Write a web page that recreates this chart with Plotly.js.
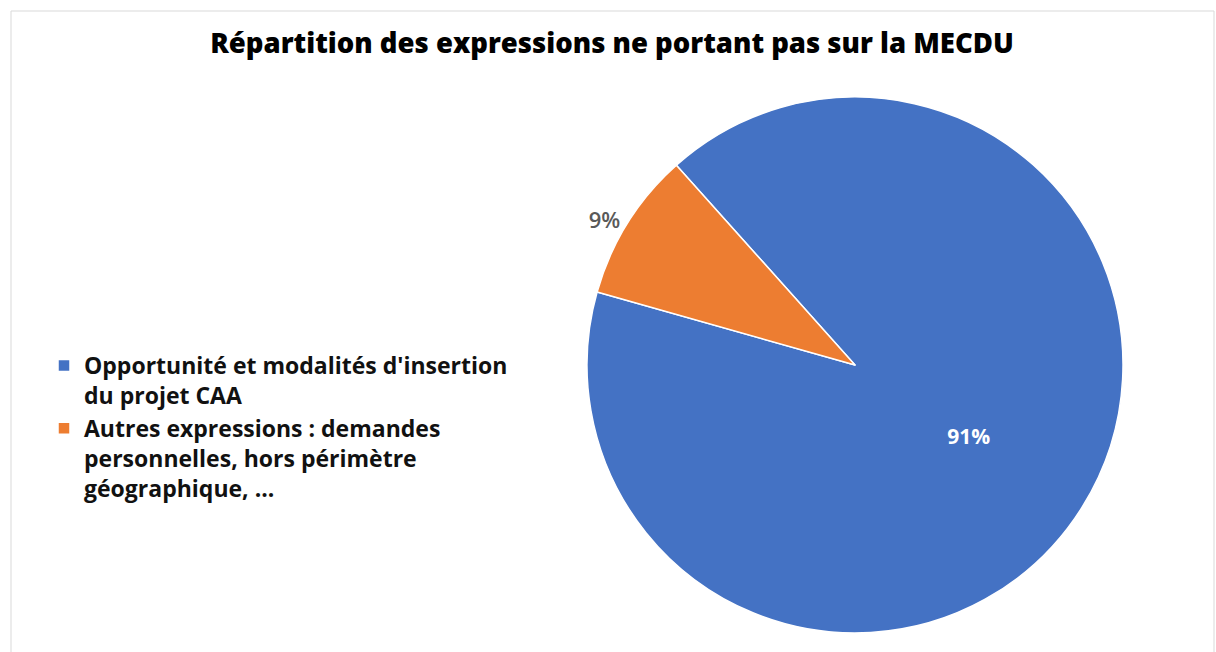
<!DOCTYPE html>
<html>
<head>
<meta charset="utf-8">
<script src="https://cdn.plot.ly/plotly-3.0.1.min.js"></script>
<style>html,body{margin:0;padding:0;background:#fff;}#chart{width:1216px;height:652px;}</style>
</head>
<body>
<div id="chart"></div>
<script>
const categories = [
  "Opportunité et modalités d'insertion<br>du projet CAA",
  "Autres expressions : demandes<br>personnelles, hors périmètre<br>géographique, ..."
];
const values = [91, 9];
const colors = ["#4472C4", "#ED7D31"];
const chartTitle = "Répartition des expressions ne portant pas sur la MECDU";

const W = 1216, H = 652;
const trace = {
  type: 'pie',
  labels: categories,
  values: values,
  sort: false,
  direction: 'clockwise',
  rotation: -41.8,
  marker: {colors: colors, line: {color: '#ffffff', width: 1.5}},
  textinfo: 'percent',
  texttemplate: '%{percent:.0%}',
  textposition: ['inside', 'outside'],
  insidetextfont: {family: 'Open Sans', size: 21, color: '#ffffff', weight: 700},
  outsidetextfont: {family: 'Open Sans', size: 22, color: '#595959', weight: 600},
  domain: {x: [587 / W, 1123 / W], y: [(H - 633) / H, (H - 97) / H]},
  hoverinfo: 'label+percent',
  automargin: false
};

const layout = {
  width: W, height: H,
  margin: {l: 0, r: 0, t: 0, b: 0},
  paper_bgcolor: '#ffffff',
  title: {
    text: chartTitle,
    x: 612 / W, xanchor: 'center',
    y: 1 - 43 / H, yanchor: 'middle',
    font: {family: 'Open Sans', size: 27.5, color: '#000000', weight: 800}
  },
  showlegend: true,
  legend: {
    x: 44 / W, xanchor: 'left',
    y: 1 - 344 / H, yanchor: 'top',
    valign: 'top',
    font: {family: 'Open Sans', size: 23, color: '#111111', weight: 700}
  },
  shapes: [{
    type: 'rect', xref: 'paper', yref: 'paper',
    x0: 11 / W, x1: 1214 / W, y0: -0.05, y1: 1 - 11 / H,
    line: {color: '#d9d9d9', width: 1}, fillcolor: 'rgba(0,0,0,0)', layer: 'below'
  }]
};

Plotly.newPlot('chart', [trace], layout, {displayModeBar: false, staticPlot: true});
</script>
</body>
</html>
